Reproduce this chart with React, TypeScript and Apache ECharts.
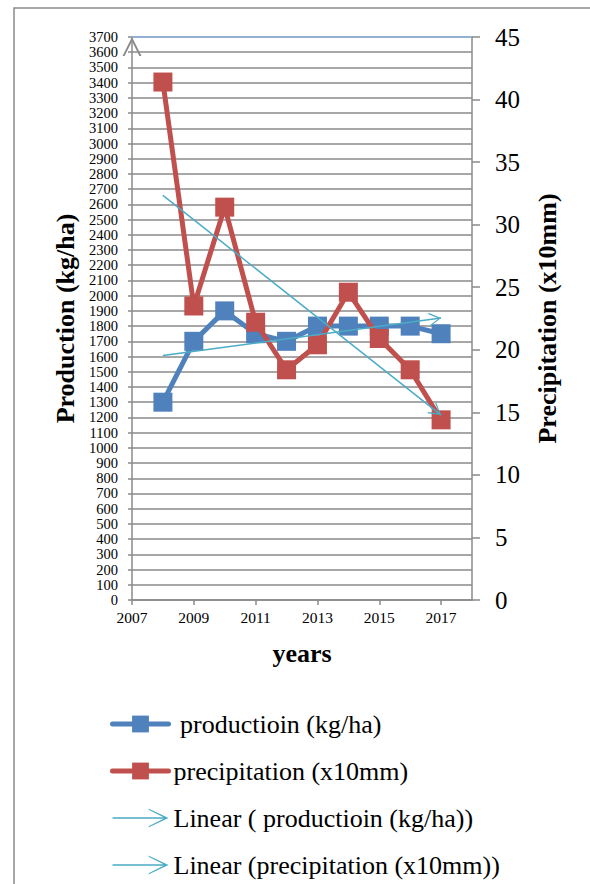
import React, { useEffect, useRef } from "react";
import * as echarts from "echarts";

// Yearly observations
const years = [2008, 2009, 2010, 2011, 2012, 2013, 2014, 2015, 2016, 2017];
const production = [1300, 1700, 1900, 1750, 1700, 1800, 1800, 1800, 1800, 1750];
const precipitation = [41.4, 23.5, 31.4, 22.2, 18.4, 20.4, 24.6, 20.9, 18.4, 14.4];

// Axis tick positions
const yearTicks = [2007, 2009, 2011, 2013, 2015, 2017];
const productionTicksEven = [0, 200, 400, 600, 800, 1000, 1200, 1400, 1600, 1800, 2000, 2200, 2400, 2600, 2800, 3000, 3200, 3400, 3600];
const productionTicksOdd = [100, 300, 500, 700, 900, 1100, 1300, 1500, 1700, 1900, 2100, 2300, 2500, 2700, 2900, 3100, 3300, 3500, 3700];

const seriesNames = [
  " productioin (kg/ha)",
  "precipitation (x10mm)",
  "Linear ( productioin (kg/ha))",
  "Linear (precipitation (x10mm))",
];

const FONT = "'Liberation Serif', 'Times New Roman', Times, serif";
const GRAY = "#8a8a8a";
const BLUE = "#4F81BD";
const RED = "#C0504D";
const AQUA = "#4BACC6";

// Open chevron at the top of the left axis
const AXIS_CHEVRON = "path://M0,18 L9,0 L18,18 L16,18 L9,4 L2,18 Z";
// Arrow head for the trend lines (tip at the centre of its box)
const TREND_HEAD = "path://M0,12 L7,0 L14,12 L12.6,12 L7,2.4 L1.4,12 Z M7,-12 L7.01,-12 L7,-11.99 Z";
// Legend icon for the trend lines
const TREND_ICON =
  "path://M2,9.8 L52,9.8 L52,11.2 L2,11.2 Z M35,1.8 L53.5,10.5 L35,19.2 L35.6,17.8 L50.3,10.5 L35.6,3.2 Z";

// Least-squares straight line through the points, evaluated at the first and last x
function linearTrend(xs: number[], ys: number[]): number[][] {
  const n = xs.length;
  const mx = xs.reduce((a, b) => a + b, 0) / n;
  const my = ys.reduce((a, b) => a + b, 0) / n;
  let sxy = 0;
  let sxx = 0;
  for (let i = 0; i < n; i++) {
    sxy += (xs[i] - mx) * (ys[i] - my);
    sxx += (xs[i] - mx) * (xs[i] - mx);
  }
  const slope = sxy / sxx;
  const at = (x: number) => my + slope * (x - mx);
  return [
    [xs[0], at(xs[0])],
    [xs[n - 1], at(xs[n - 1])],
  ];
}

const plain = (v: number) => String(v);

const leftLabel = (values: number[]) => ({
  customValues: values,
  formatter: plain,
  fontSize: 14.5,
  lineHeight: 14,
  margin: 14,
  color: "#000",
  fontFamily: FONT,
  showMinLabel: true,
  showMaxLabel: true,
});

export default function App() {
  const ref = useRef<HTMLDivElement>(null);

  useEffect(() => {
    if (!ref.current) return;
    const chart = echarts.init(ref.current, undefined, { renderer: "svg" });

    const prodTrend = linearTrend(years, production);
    const precTrend = linearTrend(years, precipitation);

    const trendSeries = (name: string, yAxisIndex: number, pts: number[][]) => ({
      type: "line",
      name,
      yAxisIndex,
      data: [],
      color: AQUA,
      lineStyle: { color: AQUA, width: 1.5 },
      z: 5,
      markLine: {
        silent: true,
        symbol: ["none", TREND_HEAD],
        symbolSize: [14, 24],
        label: { show: false },
        lineStyle: { color: AQUA, width: 1.5, type: "solid" },
        emphasis: { disabled: true },
        data: [[{ coord: pts[0] }, { coord: pts[1] }]],
      },
    });

    chart.setOption({
      animation: false,
      backgroundColor: "#ffffff",
      textStyle: { fontFamily: FONT, color: "#000" },
      graphic: [
        {
          type: "rect",
          silent: true,
          shape: { x: 14, y: 8, width: 640, height: 940 },
          style: { fill: "none", stroke: GRAY, lineWidth: 1.5 },
        },
      ],
      grid: { left: 132, top: 37, width: 340, height: 563, containLabel: false, outerBoundsMode: "none" },
      xAxis: {
        type: "value",
        min: 2007,
        max: 2018,
        name: "years",
        nameLocation: "middle",
        nameGap: 40,
        nameTextStyle: { fontFamily: FONT, fontWeight: "bold", fontSize: 26, color: "#000" },
        axisLine: { show: true, lineStyle: { color: GRAY, width: 1.5 } },
        axisTick: { show: true, length: 5, customValues: yearTicks, lineStyle: { color: GRAY, width: 1.5 } },
        axisLabel: {
          customValues: yearTicks,
          formatter: plain,
          fontSize: 15.5,
          margin: 9,
          color: "#000",
          fontFamily: FONT,
          showMinLabel: true,
        },
        splitLine: { show: false },
      },
      yAxis: [
        {
          type: "value",
          position: "left",
          min: 0,
          max: 3700,
          interval: 100,
          name: "Production (kg/ha)",
          nameLocation: "middle",
          nameRotate: 90,
          nameGap: 53,
          nameTextStyle: { fontFamily: FONT, fontWeight: "bold", fontSize: 26, color: "#000" },
          axisLine: {
            show: true,
            lineStyle: { color: GRAY, width: 1.5 },
            symbol: ["none", AXIS_CHEVRON],
            symbolSize: [19, 19],
            symbolOffset: [0, -9.5],
          },
          axisTick: { show: true, length: 4, lineStyle: { color: GRAY, width: 1.5 } },
          axisLabel: leftLabel(productionTicksEven),
          splitLine: { show: true, lineStyle: { color: GRAY, width: 1.5 } },
        },
        {
          type: "value",
          position: "right",
          min: 0,
          max: 45,
          interval: 5,
          name: "Precipitation (x10mm)",
          nameLocation: "middle",
          nameRotate: 90,
          nameGap: 62,
          nameTextStyle: { fontFamily: FONT, fontWeight: "bold", fontSize: 26, color: "#000" },
          axisLine: { show: true, lineStyle: { color: GRAY, width: 1.5 } },
          axisTick: { show: true, length: 8, lineStyle: { color: GRAY, width: 1.5 } },
          axisLabel: {
            formatter: plain,
            fontSize: 25,
            margin: 23,
            color: "#000",
            fontFamily: FONT,
            showMinLabel: true,
            showMaxLabel: true,
          },
          splitLine: { show: false },
        },
        {
          // second label row of the production scale (odd hundreds)
          type: "value",
          position: "left",
          min: 0,
          max: 3700,
          interval: 100,
          axisLine: { show: false },
          axisTick: { show: false },
          axisLabel: leftLabel(productionTicksOdd),
          splitLine: { show: false },
        },
      ],
      legend: {
        orient: "vertical",
        left: 110,
        top: 711,
        padding: 0,
        itemWidth: 56,
        itemHeight: 21,
        itemGap: 21,
        selectedMode: false,
        textStyle: { fontFamily: FONT, fontSize: 26, color: "#000" },
        data: [
          { name: seriesNames[0], lineStyle: { width: 5, cap: "round" } },
          { name: seriesNames[1], lineStyle: { width: 5, cap: "round" } },
          { name: seriesNames[2], icon: TREND_ICON, itemStyle: { color: AQUA } },
          { name: seriesNames[3], icon: TREND_ICON, itemStyle: { color: AQUA } },
        ],
      },
      series: [
        {
          type: "line",
          name: seriesNames[0],
          yAxisIndex: 0,
          data: years.map((y, i) => [y, production[i]]),
          symbol: "rect",
          symbolSize: 19,
          color: BLUE,
          itemStyle: { color: BLUE },
          lineStyle: { color: BLUE, width: 5 },
          z: 2,
          markLine: {
            silent: true,
            symbol: "none",
            label: { show: false },
            lineStyle: { color: "#8DB4E2", width: 1.5, type: "solid" },
            data: [{ yAxis: 3700 }],
          },
        },
        {
          type: "line",
          name: seriesNames[1],
          yAxisIndex: 1,
          data: years.map((y, i) => [y, precipitation[i]]),
          symbol: "rect",
          symbolSize: 19,
          color: RED,
          itemStyle: { color: RED },
          lineStyle: { color: RED, width: 5 },
          z: 3,
        },
        trendSeries(seriesNames[2], 0, prodTrend),
        trendSeries(seriesNames[3], 1, precTrend),
      ],
    });

    return () => chart.dispose();
  }, []);

  return (
    <div
      ref={ref}
      style={{ position: "absolute", left: 0, top: 0, width: 590, height: 884 }}
    />
  );
}
